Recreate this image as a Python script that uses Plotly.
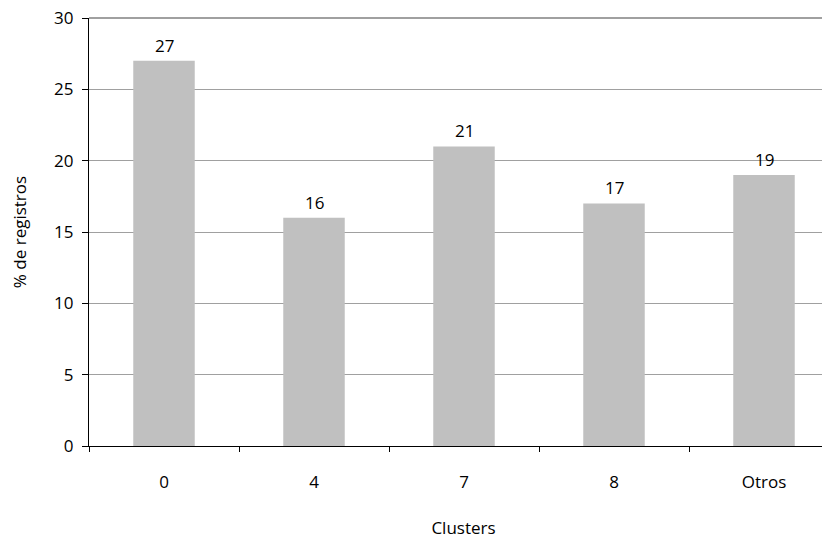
import plotly.graph_objects as go

categories = ["0", "4", "7", "8", "Otros"]
values = [27, 16, 21, 17, 19]
y_ticks = [0, 5, 10, 15, 20, 25, 30]

FONT = "Open Sans"
FS = 17

fig = go.Figure()
fig.add_trace(go.Bar(
    x=categories, y=values,
    marker=dict(color="#c0c0c0", line=dict(width=0)),
    width=0.41,
    hoverinfo="skip",
))

for i, v in enumerate(values):
    fig.add_annotation(x=i, y=v, xref="x", yref="y", text=str(v), showarrow=False,
                       yanchor="bottom", yshift=2,
                       font=dict(family=FONT, size=FS, color="#000"))

fig.add_shape(type="line", xref="paper", yref="paper", x0=0, x1=1, y0=1, y1=1,
              line=dict(color="#808080", width=1.3), layer="above")

fig.update_layout(
    width=830, height=542,
    margin=dict(l=81, r=0, t=10, b=104),
    paper_bgcolor="white", plot_bgcolor="white",
    font=dict(family=FONT, size=FS, color="#000"),
    showlegend=False,
    bargap=0.59,
    xaxis=dict(
        type="category",
        range=[-0.5, -0.5 + 749 / 150],
        tickson="boundaries",
        ticks="outside", ticklen=5, tickcolor="#000", tickwidth=1,
        ticklabelstandoff=20,
        showline=True, linecolor="#000", linewidth=1.3,
        showgrid=False,
        automargin=False,
        title=dict(text="Clusters", standoff=30, font=dict(size=FS)),
        tickfont=dict(size=FS),
    ),
    yaxis=dict(
        range=[0, 30],
        tickvals=y_ticks,
        ticks="outside", ticklen=6, tickcolor="#000", tickwidth=1,
        ticklabelstandoff=5,
        ticklabeloverflow="allow",
        showline=True, linecolor="#000", linewidth=1.3,
        showgrid=True, gridcolor="#a0a0a0", gridwidth=1,
        zeroline=False,
        automargin=False,
        title=dict(text="% de registros", standoff=25, font=dict(size=FS)),
        tickfont=dict(size=FS),
    ),
)

fig.write_html("out.html")
